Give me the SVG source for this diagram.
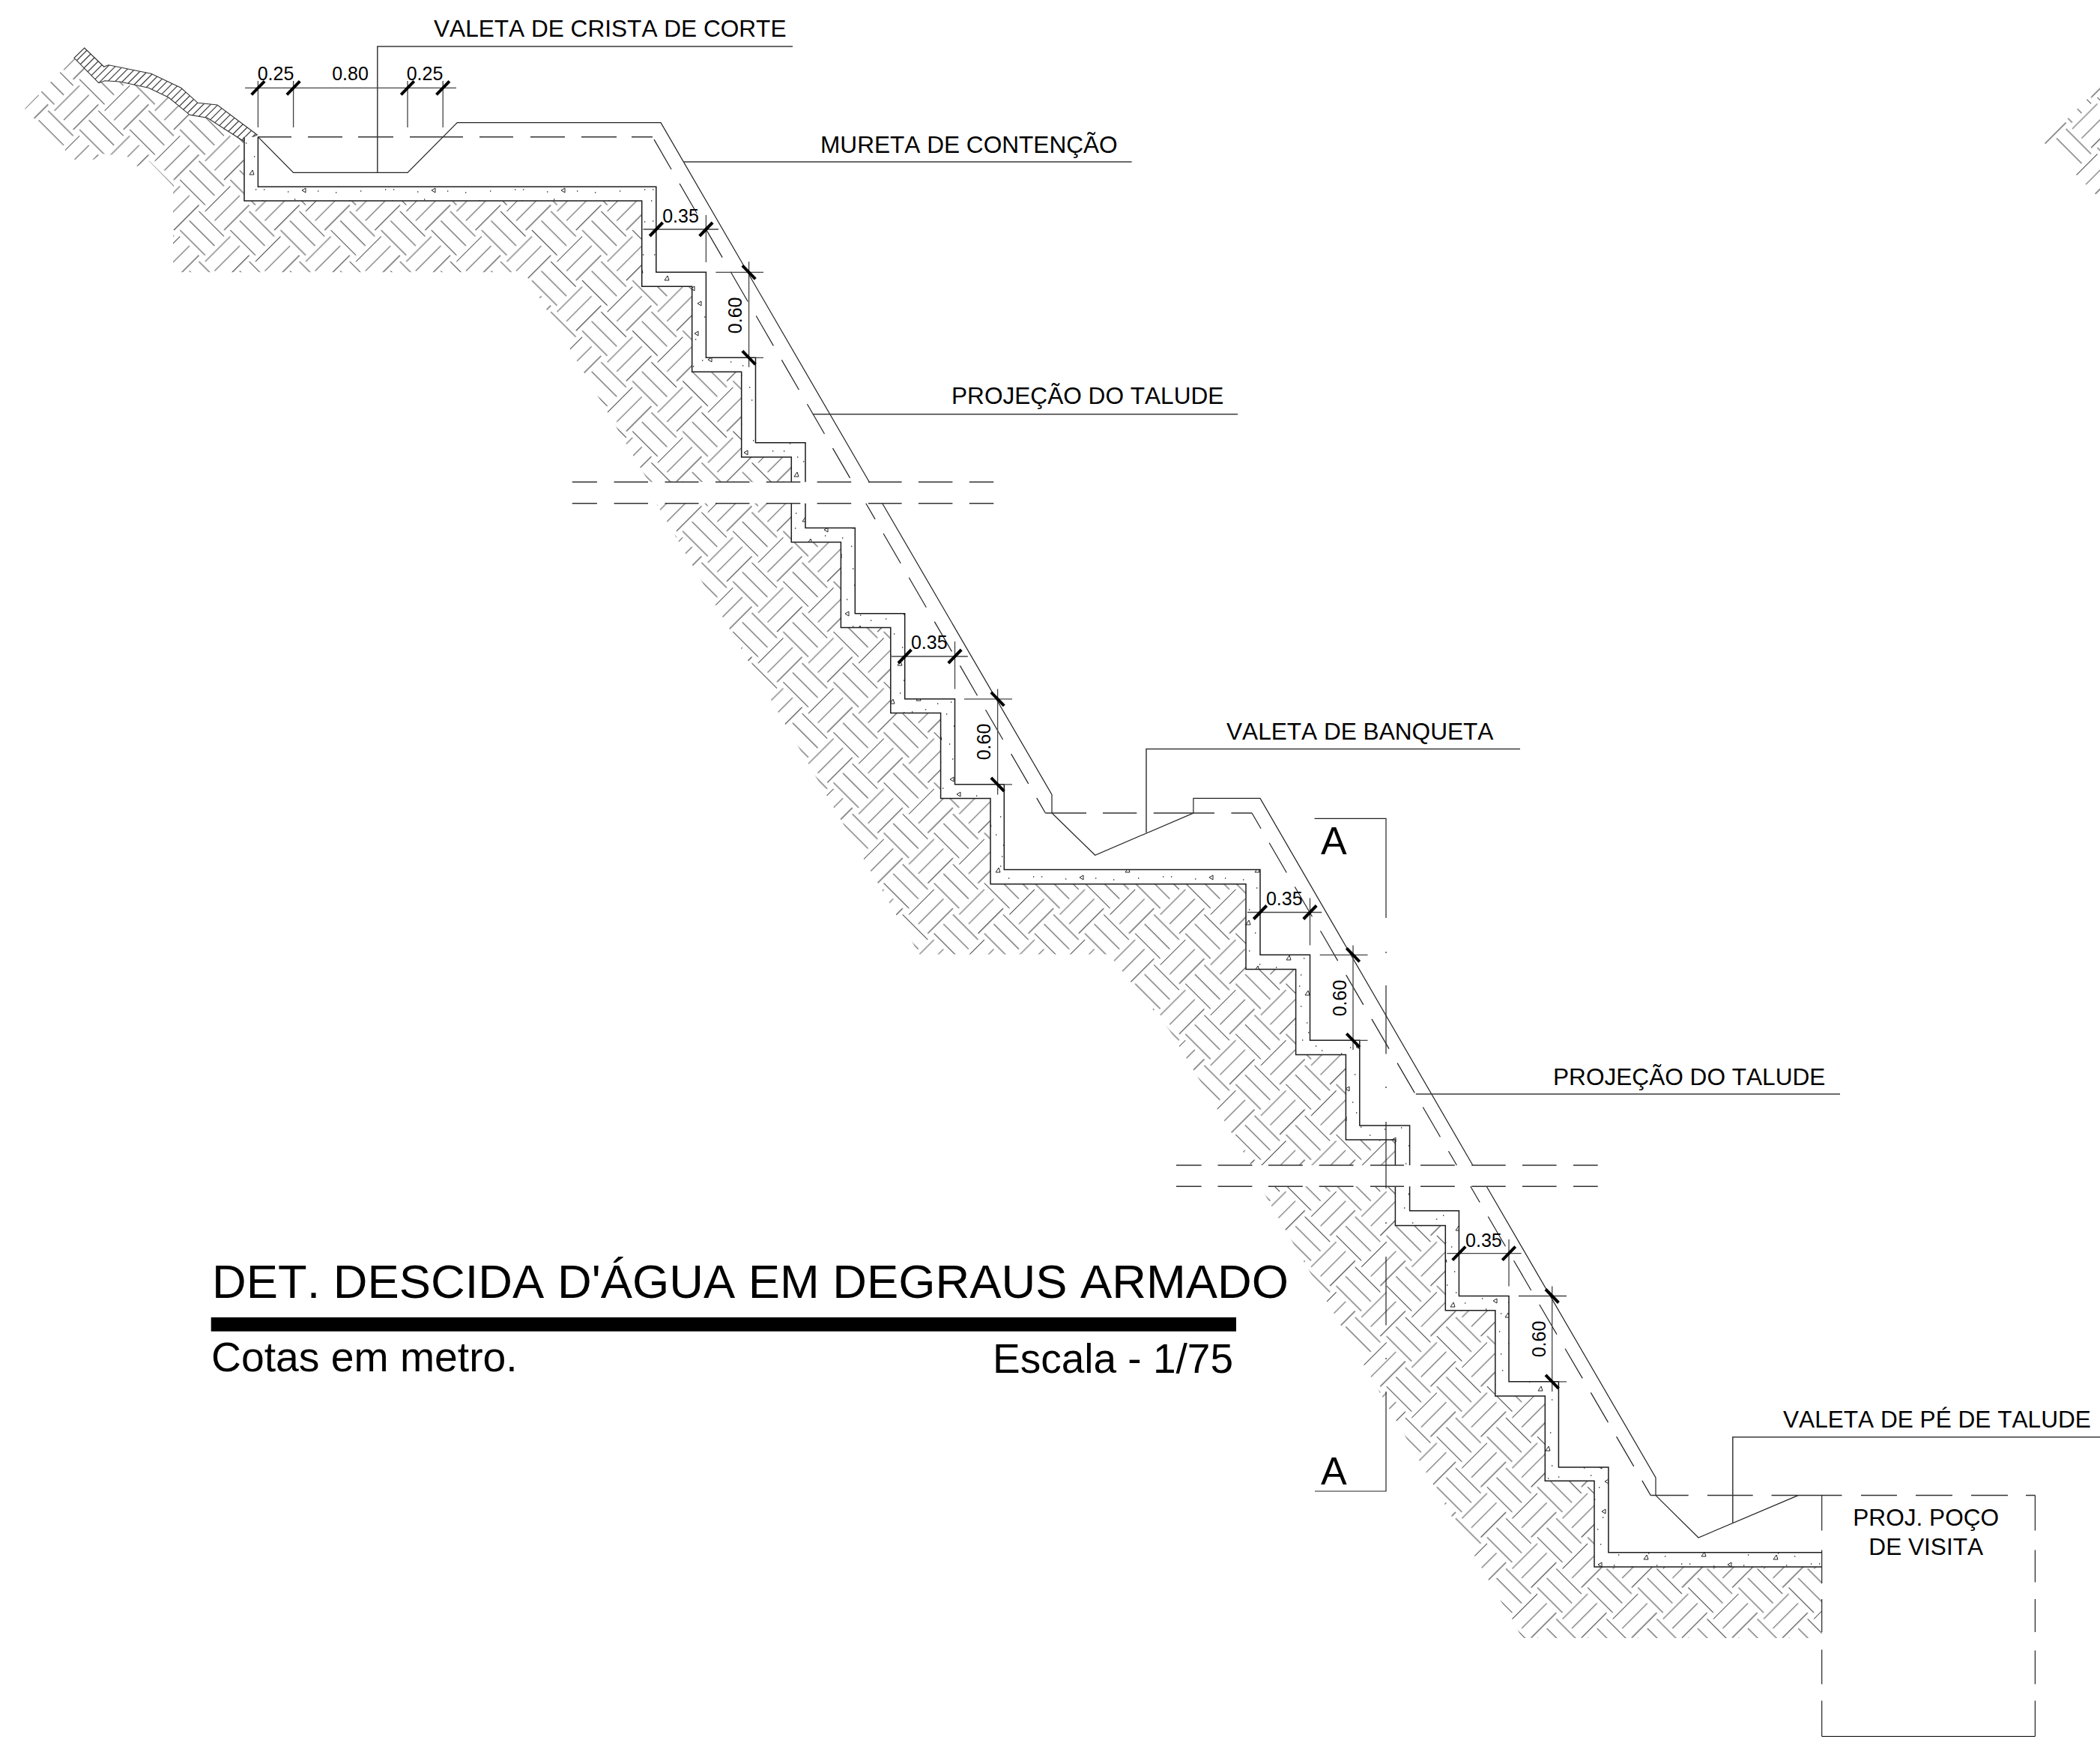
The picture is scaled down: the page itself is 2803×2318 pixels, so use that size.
<svg xmlns="http://www.w3.org/2000/svg" width="2803" height="2318" viewBox="0 0 2803 2318">
<style>
text{font-family:"Liberation Sans",Arial,sans-serif;fill:#000;font-kerning:none}
.lb{font-size:31.6px}.dm{font-size:25px;text-anchor:middle}.sec{font-size:52px}
.out{fill:none;stroke:#1c1c1c;stroke-width:1.5}
.thin{fill:none;stroke:#222;stroke-width:1.2}
.lead{fill:none;stroke:#3a3a3a;stroke-width:1.5}
.dash{fill:none;stroke:#333;stroke-width:1.5}
.dsl{fill:none;stroke:#222;stroke-width:1.2;stroke-dasharray:46 22}
.ld{fill:none;stroke:#444;stroke-width:1.3}
.tk{fill:none;stroke:#000;stroke-width:4}
</style>
<defs>
<path id="tf" class="tk" d="M-8.7,9L8.7,-9"/>
<path id="tb" class="tk" d="M-8.7,-9L8.7,9"/>
<g id="weave" fill="none" stroke="#505050" stroke-width="1.1">
<path d="M0,0H47.45M0,94.9H47.45M0,17.79H47.45M0,35.58H47.45M47.45,47.45H94.9M47.45,65.24H94.9M47.45,83.03H94.9"/>
<path d="M5.93,41.52V88.97M23.73,41.52V88.97M41.52,41.52V88.97M53.38,88.97V94.9M71.18,88.97V94.9M88.97,88.97V94.9M53.38,0V41.52M71.18,0V41.52M88.97,0V41.52"/>
</g>
<pattern id="h1" patternUnits="userSpaceOnUse" width="94.9" height="94.9" patternTransform="translate(810.7,483.3) rotate(-45)"><use href="#weave"/></pattern>
<pattern id="h2" patternUnits="userSpaceOnUse" width="94.9" height="94.9" patternTransform="translate(1079,885) rotate(-45)"><use href="#weave"/></pattern>
<pattern id="h3" patternUnits="userSpaceOnUse" width="94.9" height="94.9" patternTransform="translate(1884.3,1825) rotate(-45)"><use href="#weave"/></pattern>
<pattern id="h4" patternUnits="userSpaceOnUse" width="94.9" height="94.9" patternTransform="translate(2766,172) rotate(-45)"><use href="#weave"/></pattern>
<pattern id="strip" patternUnits="userSpaceOnUse" width="7" height="7" patternTransform="rotate(45)"><path d="M3.5,0V7" stroke="#222" stroke-width="1.1"/></pattern>
<pattern id="stip" patternUnits="userSpaceOnUse" width="173" height="131">
<rect width="173" height="131" fill="#fff"/>
<path fill="none" stroke="#222" stroke-width="1" d="M12,18l4,-6l2,6zM71,9l-5,3l5,3zM106,55l4,-6l2,6zM40,70l4,-6l2,6zM85,84l-5,3l5,3zM150,22l4,-6l2,6zM133,77l-5,3l5,3zM22,112l4,-6l2,6zM62,120l-5,3l5,3zM118,116l4,-6l2,6zM160,102l4,-6l2,6zM95,30l-5,3l5,3zM33,41l4,-6l2,6zM67,49l-5,3l5,3z"/>
<path fill="none" stroke="#333" stroke-width="1.4" d="M4,6h1.3M28,12h1.3M47,4h1.3M58,20h1.3M92,14h1.3M120,6h1.3M6,33h1.3M24,30h1.3M52,36h1.3M75,30h1.3M110,35h1.3M124,42h1.3M14,55h1.3M23,50h1.3M63,60h1.3M86,63h1.3M118,66h1.3M8,78h1.3M26,86h1.3M56,76h1.3M72,88h1.3M98,74h1.3M110,90h1.3M126,95h1.3M138,10h1.3M163,8h1.3M144,40h1.3M168,34h1.3M155,60h1.3M140,64h1.3M166,78h1.3M150,88h1.3M146,112h1.3M135,124h1.3M100,104h1.3M84,110h1.3M44,100h1.3M10,100h1.3M38,125h1.3M6,122h1.3M78,124h1.3M102,126h1.3M168,122h1.3M60,96h1.3M34,92h1.3M124,108h1.3M80,44h1.3M100,50h1.3M40,22h1.3M16,68h1.3"/>
</pattern>
</defs>

<g id="terreno">
<polygon fill="url(#h1)" points="99,77.3 131.7,110.7 140,107.7 160,109 198.3,117.3 225,130 253.3,153.3 276.7,157.3 325,188.3 326,268 856.7,268 856.7,382.3 923.7,382.3 923.7,496.3 989.7,496.3 989.7,610 1056.3,610 1056.3,643.3 866,643.3 700,363.3 242,363.3 231,350 231,248 198,214 183,222 170,209 135,205 125,213 99,213 33,145"/>
<polygon fill="url(#h2)" points="876,671.7 1056.3,671.7 1056.3,723.5 1122.4,723.5 1122.4,837.4 1188.8,837.4 1188.8,951.4 1255.6,951.4 1255.6,1065.4 1322,1065.4 1322,1179.8 1663,1179.8 1663,1293.4 1729.6,1293.4 1729.6,1407.4 1796.4,1407.4 1796.4,1521 1862.4,1521 1862.4,1555 1670,1555 1561,1375 1480,1273.5 1227,1273.5"/>
<polygon fill="url(#h3)" points="1682,1583.2 1862.4,1583.2 1862.4,1635.6 1929.3,1635.6 1929.3,1748.8 1995.8,1748.8 1995.8,1863 2062.3,1863 2062.3,1976.3 2128,1976.3 2128,2091 2431.7,2091 2431.7,2186 2032,2186"/>
<polygon fill="url(#h4)" points="2803,115 2728,190 2803,265"/>
<polygon fill="url(#strip)" stroke="#333" stroke-width="1.1" points="112.7,64 138.7,89 145,86.7 201.7,98.3 241.7,117.3 264,137.3 290,140 343.3,180 325,188.3 276.7,157.3 253.3,153.3 225,130 198.3,117.3 160,109 140,107.7 131.7,110.7 99,77.3"/>
</g>

<g id="concreto">
<path fill="url(#stip)" d="M326,182.7V268H856.7V382.3H923.7V496.3H989.7V610H1056.3V643.3H1075V590.7H1008.5V477.3H942.4V363.3H875.8V249.3H344.4V182.7Z"/>
<path fill="url(#stip)" d="M1056.3,671.7V723.5H1122.4V837.4H1188.8V951.4H1255.6V1065.4H1322V1179.8H1663V1293.4H1729.6V1407.4H1796.4V1521H1862.4V1555H1881.6V1501.9H1814.8V1388.3H1748.5V1274.3H1682V1160.5H1340.3V1046.8H1274.5V932.8H1207.7V818.7H1141.3V704.5H1075V671.7Z"/>
<path fill="url(#stip)" d="M1862.4,1583.2V1635.6H1929.3V1748.8H1995.8V1863H2062.3V1976.3H2128V2091H2431.7V2071.7H2146.9V1958H2080.4V1843.8H2014V1729.5H1947.4V1615.8H1881.6V1583.2Z"/>
<path class="out" d="M326,182.7V268H856.7V382.3H923.7V496.3H989.7V610H1056.3V643.3M1075,643.3V590.7H1008.5V477.3H942.4V363.3H875.8V249.3H344.4V182.7"/>
<path class="out" d="M1056.3,671.7V723.5H1122.4V837.4H1188.8V951.4H1255.6V1065.4H1322V1179.8H1663V1293.4H1729.6V1407.4H1796.4V1521H1862.4V1555M1881.6,1555V1501.9H1814.8V1388.3H1748.5V1274.3H1682V1160.5H1340.3V1046.8H1274.5V932.8H1207.7V818.7H1141.3V704.5H1075V671.7"/>
<path class="out" d="M1862.4,1583.2V1635.6H1929.3V1748.8H1995.8V1863H2062.3V1976.3H2128V2091H2431.7M2431.7,2071.7H2146.9V1958H2080.4V1843.8H2014V1729.5H1947.4V1615.8H1881.6V1583.2"/>
</g>

<g id="talude">
<path class="thin" d="M344.4,182.7L391.6,230.3H544L610.3,163.7H882L1160.3,643.3"/>
<path class="thin" d="M1177.7,671.7L1404,1060.4V1085L1461.7,1141.3L1592.9,1085V1065.4H1682L1965.8,1555"/>
<path class="thin" d="M1984.2,1583.2L2210,1972V1995.6L2267,2052L2400,1995.6"/>
</g>

<g id="projecao">
<path class="dash" d="M344,182.7H389M411,182.7H457M478,182.7H525M547,182.7H618M640,182.7H685M708,182.7H754M776,182.7H823M843,182.7H871"/>
<path class="dsl" stroke-dashoffset="64" d="M871,182.7L1137.5,643"/>
<path class="dsl" stroke-dashoffset="21.5" d="M1155.8,671.7L1395.4,1085"/>
<path class="dash" d="M1395.4,1085H1450M1472,1085H1517.3M1539.8,1085H1621M1643.4,1085H1671"/>
<path class="dsl" stroke-dashoffset="22" d="M1671,1085L1944.4,1555"/>
<path class="dsl" stroke-dashoffset="21.4" d="M1962.8,1583.2L2203.3,1995.6"/>
<path class="dash" d="M2203.3,1995.6H2253.7M2279,1995.6H2339.7M2364.5,1995.6H2458.5M2484,1995.6H2532M2557,1995.6H2606M2631,1995.6H2680M2704,1995.6H2716.4"/>
<path class="thin" d="M2431.7,1995.6V2042.5M2431.7,2068.6V2113M2431.7,2134V2178M2431.7,2201.6V2247.5M2431.7,2269.4V2317M2716.4,1995.6V2042.5M2716.4,2068.6V2111.5M2716.4,2134V2178M2716.4,2202.6V2247.5M2716.4,2269.4V2317M2431.7,2317.4H2716.4"/>
</g>

<g id="quebras">
<path class="dash" d="M763.8,643.3H796.9M819.6,643.3H865M887.5,643.3H932.6M954.9,643.3H1000.4M1022.8,643.3H1068.3M1090.6,643.3H1136.2M1158.9,643.3H1203.6M1225.9,643.3H1271.4M1293.8,643.3H1326.3"/>
<path class="dash" d="M763.8,671.7H796.9M819.6,671.7H865M887.5,671.7H932.6M954.9,671.7H1000.4M1022.8,671.7H1068.3M1090.6,671.7H1136.2M1158.9,671.7H1203.6M1225.9,671.7H1271.4M1293.8,671.7H1326.3"/>
<path class="dash" d="M1570,1555H1603.6M1625.5,1555H1671.4M1692.9,1555H1738.8M1760.7,1555H1806.6M1829,1555H1874M1896,1555H1941.8M1964.3,1555H2009.7M2032,1555H2077.6M2100,1555H2132.7"/>
<path class="dash" d="M1570,1583.2H1603.6M1625.5,1583.2H1671.4M1692.9,1583.2H1738.8M1760.7,1583.2H1806.6M1829,1583.2H1874M1896,1583.2H1941.8M1964.3,1583.2H2009.7M2032,1583.2H2077.6M2100,1583.2H2132.7"/>
</g>

<g id="conectores">
<path class="lead" d="M503.8,230.3V62H1058"/>
<path class="lead" d="M912,216H1510.6"/>
<path class="lead" d="M1084.8,552.7H1652"/>
<path class="lead" d="M1530,1111V999.5H2029"/>
<path class="lead" d="M1889.8,1460H2456"/>
<path class="lead" d="M2312.8,2033V1917.8H2803"/>
<path class="thin" d="M1754.6,1092.3H1850V1225M1850,1270V1272M1850,1315V1406.5M1850,1450V1452M1850,1497V1586M1850,1631V1633M1850,1677V1768.6M1850,1812V1814M1850,1857V1990H1755"/>
</g>

<g id="cotas">
<path class="ld" d="M327,117.3H609M344.4,108V170M391.6,108V170M544,108V170M591.2,108V170"/>
<use href="#tf" x="344.4" y="117.3"/><use href="#tf" x="391.6" y="117.3"/><use href="#tf" x="544" y="117.3"/><use href="#tf" x="591.2" y="117.3"/>
<path class="ld" d="M858.5,306H959M942.4,287V350M999.6,349.3V490M955.4,363.3H1019M1008.5,477.3H1019"/>
<use href="#tf" x="875.9" y="306"/><use href="#tf" x="942.4" y="306"/><use href="#tb" x="999.6" y="363.3"/><use href="#tb" x="999.6" y="477.3"/>
<path class="ld" d="M1189.8,876H1291.8M1274.5,856V919.5M1331.6,919.5V1060.4M1287,932.8H1351M1340,1046.8H1351"/>
<use href="#tf" x="1207.7" y="876"/><use href="#tf" x="1274.5" y="876"/><use href="#tb" x="1331.6" y="932.8"/><use href="#tb" x="1331.6" y="1046.8"/>
<path class="ld" d="M1664.8,1217.5H1764.3M1748.5,1198.4V1261.4M1806,1261.4V1401M1761.7,1274.3H1825.5M1814,1388.3H1825.5"/>
<use href="#tf" x="1682" y="1217.5"/><use href="#tf" x="1748.5" y="1217.5"/><use href="#tb" x="1806" y="1274.3"/><use href="#tb" x="1806" y="1388.3"/>
<path class="ld" d="M1931.3,1672.7H2030.7M2014,1654V1716.5M2071.7,1716.5V1857M2027,1729.5H2091M2080,1843.8H2091"/>
<use href="#tf" x="1947.4" y="1672.7"/><use href="#tf" x="2014" y="1672.7"/><use href="#tb" x="2071.7" y="1729.5"/><use href="#tb" x="2071.7" y="1843.8"/>
<text class="dm" x="368" y="106.7">0.25</text>
<text class="dm" x="467.5" y="106.7">0.80</text>
<text class="dm" x="567" y="106.7">0.25</text>
<text class="dm" x="908.5" y="296.7">0.35</text>
<text class="dm" x="1240.3" y="866.4">0.35</text>
<text class="dm" x="1714.3" y="1208">0.35</text>
<text class="dm" x="1980.4" y="1664">0.35</text>
<text class="dm" transform="rotate(-90 990 420.8)" x="990" y="420.8">0.60</text>
<text class="dm" transform="rotate(-90 1322.4 990)" x="1322.4" y="990">0.60</text>
<text class="dm" transform="rotate(-90 1797 1332)" x="1797" y="1332">0.60</text>
<text class="dm" transform="rotate(-90 2063 1787)" x="2063" y="1787">0.60</text>
</g>

<g id="rotulos">
<text class="lb" x="579" y="49.3">VALETA DE CRISTA DE CORTE</text>
<text class="lb" x="1095" y="203.5">MURETA DE CONTENÇÃO</text>
<text class="lb" x="1270" y="539.3">PROJEÇÃO DO TALUDE</text>
<text class="lb" x="1637" y="986.7">VALETA DE BANQUETA</text>
<text class="lb" x="2073" y="1448">PROJEÇÃO DO TALUDE</text>
<text class="lb" x="2380" y="1904.8">VALETA DE PÉ DE TALUDE</text>
<text class="lb" x="2570.7" y="2036" text-anchor="middle">PROJ. POÇO</text>
<text class="lb" x="2570.7" y="2075" text-anchor="middle">DE VISITA</text>
<text class="sec" x="1763" y="1140">A</text>
<text class="sec" x="1763" y="1981">A</text>
</g>

<g id="titulo">
<text x="283" y="1732" font-size="63" textLength="1437" lengthAdjust="spacingAndGlyphs">DET. DESCIDA D'ÁGUA EM DEGRAUS ARMADO</text>
<rect x="281.7" y="1758" width="1368.3" height="18.7" fill="#000"/>
<text x="282" y="1830" font-size="55.3">Cotas em metro.</text>
<text x="1325" y="1831.7" font-size="55">Escala - 1/75</text>
</g>
</svg>
